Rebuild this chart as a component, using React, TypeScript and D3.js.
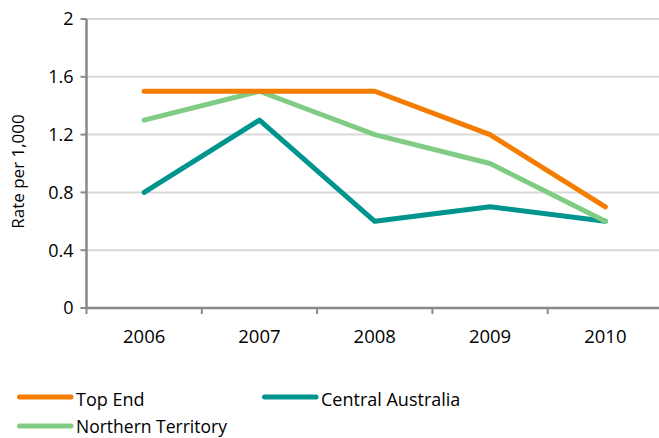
import React from "react";
import * as d3 from "d3";

const years = ["2006", "2007", "2008", "2009", "2010"];
const topEnd = [1.5, 1.5, 1.5, 1.2, 0.7];
const centralAustralia = [0.8, 1.3, 0.6, 0.7, 0.6];
const northernTerritory = [1.3, 1.5, 1.2, 1.0, 0.6];
const yTicks = [0, 0.4, 0.8, 1.2, 1.6, 2];
const seriesNames = ["Top End", "Central Australia", "Northern Territory"];

const W = 659;
const H = 438;
const FONT = "'Open Sans', sans-serif";

export default function App() {
  const left = 86.5;
  const right = 663;
  const top = 19;
  const bottom = 308;
  const x = d3.scaleBand<string>().domain(years).range([left, right]);
  const y = d3.scaleLinear().domain([0, 2]).range([bottom, top]);
  const line = d3
    .line<number>()
    .x((_, i) => (x(years[i]) as number) + x.bandwidth() / 2)
    .y((d) => y(d));

  const series = [
    { name: seriesNames[0], values: topEnd, color: "#F47C00" },
    { name: seriesNames[1], values: centralAustralia, color: "#00948F" },
    { name: seriesNames[2], values: northernTerritory, color: "#80CC84" },
  ];
  const drawOrder = [series[1], series[2], series[0]];
  const legendPos = [
    { x: 17, y: 397 },
    { x: 262, y: 397 },
    { x: 17, y: 426 },
  ];
  const axisColor = "#898989";
  const tickPositions = years.map((yr) => x(yr) as number).concat([right]);

  return (
    <div style={{ position: "fixed", left: 0, top: 0, width: W, height: H, background: "#fff" }}>
      <svg width={W} height={H} style={{ display: "block" }}>
        {yTicks.map((t) => (
          <g key={t}>
            {t > 0 && (
              <line x1={left} x2={right} y1={y(t)} y2={y(t)} stroke="#D9D9D9" strokeWidth={2} />
            )}
            <line x1={left - 6} x2={left} y1={y(t)} y2={y(t)} stroke={axisColor} strokeWidth={2} />
            <text
              x={left - 13}
              y={y(t)}
              dy="0.35em"
              textAnchor="end"
              fontFamily={FONT}
              fontSize={18}
              fill="#000"
            >
              {String(t)}
            </text>
          </g>
        ))}
        <line x1={left} x2={left} y1={top} y2={bottom} stroke={axisColor} strokeWidth={2.5} />
        <line x1={left} x2={right} y1={bottom} y2={bottom} stroke={axisColor} strokeWidth={2.5} />
        {tickPositions.map((p, i) => (
          <line key={i} x1={p} x2={p} y1={bottom} y2={bottom + 6} stroke={axisColor} strokeWidth={2} />
        ))}
        {years.map((yr) => (
          <text
            key={yr}
            x={(x(yr) as number) + x.bandwidth() / 2}
            y={343}
            textAnchor="middle"
            fontFamily={FONT}
            fontSize={18.5}
            fill="#000"
          >
            {yr}
          </text>
        ))}
        <text
          transform={`translate(24,${(top + bottom) / 2 + 8}) rotate(-90)`}
          textAnchor="middle"
          fontFamily={FONT}
          fontSize={17}
          fill="#000"
        >
          Rate per 1,000
        </text>
        {drawOrder.map((s) => (
          <path
            key={s.name}
            d={line(s.values) || ""}
            fill="none"
            stroke={s.color}
            strokeWidth={5}
            strokeLinecap="round"
            strokeLinejoin="round"
          />
        ))}
        {series.map((s, i) => (
          <g key={s.name}>
            <line
              x1={legendPos[i].x + 2.5}
              x2={legendPos[i].x + 54}
              y1={legendPos[i].y}
              y2={legendPos[i].y}
              stroke={s.color}
              strokeWidth={5}
              strokeLinecap="round"
            />
            <text
              x={legendPos[i].x + 59}
              y={legendPos[i].y + (i === 2 ? 7 : 9)}
              fontFamily={FONT}
              fontSize={i === 2 ? 17.5 : 18}
              fill="#000"
            >
              {s.name}
            </text>
          </g>
        ))}
      </svg>
    </div>
  );
}
